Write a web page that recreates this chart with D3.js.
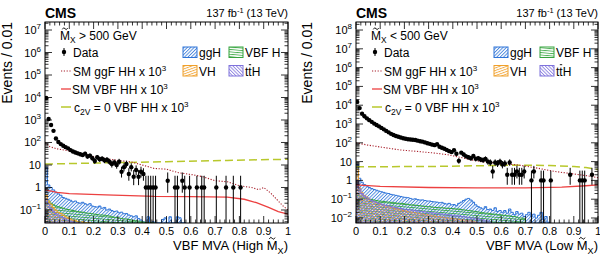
<!DOCTYPE html>
<html>
<head>
<meta charset="utf-8">
<script src="https://cdn.jsdelivr.net/npm/d3@7"></script>
<style>
  body { margin: 0; background: #fff; }
  text { font-family: "Liberation Sans", Arial, Helvetica, sans-serif; fill: #000; }
</style>
</head>
<body>
<svg id="chart" width="600" height="261"></svg>
<script>
// ---- values (bin width 0.01, histograms start at 0) ----

// data: [bin centre, events]
var dataHigh = [[0.005,9500],[0.015,1100],[0.025,600],[0.035,330],[0.045,150],[0.055,105],[0.065,85],[0.075,72],
  [0.085,62],[0.095,55],[0.105,46],[0.115,40],[0.125,36],[0.135,33],[0.145,30],[0.155,28],[0.165,32],[0.175,24],
  [0.185,26],[0.195,20],[0.205,15],[0.215,22],[0.225,18],[0.235,19],[0.245,16],[0.255,17],[0.265,14],[0.275,11],
  [0.285,13],[0.295,10],[0.305,14],[0.315,5],[0.325,8],[0.335,11],[0.345,4],[0.355,8],[0.365,3],[0.375,6],
  [0.385,3],[0.395,5],[0.405,4],[0.415,1],[0.425,1],[0.435,1],[0.445,1],[0.455,1],[0.505,2],[0.535,1],
  [0.545,1],[0.565,2],[0.575,1],[0.595,1],[0.625,1],[0.645,1],[0.655,1],[0.705,1],[0.745,1],[0.775,1],[0.805,1]];

var dataLow = [[0.005,15000],[0.015,7000],[0.025,3500],[0.035,2600],[0.045,2000],[0.055,1600],[0.065,1300],
  [0.075,1050],[0.085,880],[0.095,750],[0.105,620],[0.115,520],[0.125,430],[0.135,360],[0.145,300],[0.155,260],
  [0.165,230],[0.175,210],[0.185,190],[0.195,175],[0.205,165],[0.215,155],[0.225,150],[0.235,145],[0.245,140],
  [0.255,130],[0.265,120],[0.275,115],[0.285,105],[0.295,95],[0.305,88],[0.315,80],[0.325,75],[0.335,85],
  [0.345,62],[0.355,55],[0.365,48],[0.375,42],[0.385,36],[0.395,32],[0.405,40],[0.415,26],[0.425,11],[0.435,30],
  [0.445,24],[0.455,19],[0.465,17],[0.475,15],[0.485,20],[0.495,14],[0.505,15],[0.515,13],[0.525,12],[0.535,14],
  [0.545,10],[0.555,9],[0.565,3],[0.575,9],[0.585,8],[0.595,10],[0.605,7],[0.615,8],[0.625,2],[0.635,9],
  [0.645,2],[0.655,2],[0.665,3],[0.675,2],[0.685,2],[0.695,3],[0.725,1],[0.735,3],[0.765,1],[0.775,1],
  [0.805,1],[0.885,2],[0.925,1],[0.935,1],[0.945,1],[0.975,2]];

// single Higgs backgrounds, per 0.01 bin
var ggHHigh = [8,1.3,1.0,0.78,0.62,0.52,0.45,0.36,0.33,0.3, 0.27,0.23,0.25,0.21,0.2,0.22,0.19,0.17,0.19,0.15,
  0.14,0.135,0.15,0.12,0.13,0.1,0.11,0.095,0.085,0.09, 0.075,0.08,0.068,0.07,0.06,0.055,0.05,0.055,0.042,0.036,
  0.03,0.025,0.05,0.02,0.03,0.018,0.015,0.02,0.038,0.045, 0.02,0.05,0.015,0.025,0.05,0.045,0.02,0.01];
var vbfHHigh = [0.3,0.25,0.2,0.17,0.15,0.14,0.13,0.12,0.11,0.105, 0.1,0.095,0.09,0.085,0.082,0.08,0.075,0.072,0.07,0.068,
  0.065,0.063,0.06,0.06,0.058,0.056,0.054,0.05,0.048,0.046, 0.044,0.042,0.04,0.04,0.038,0.036,0.034,0.033,0.032,0.03,
  0.029,0.027,0.026,0.024,0.02];
var vhHigh = [0.45,0.25,0.18,0.13,0.1,0.08,0.07,0.06,0.05,0.045, 0.04,0.035,0.035,0.03,0.028,0.03,0.025,0.022,0.02];
var tthHigh = [0.3,0.18,0.12,0.09,0.07,0.06,0.05,0.045,0.04,0.035, 0.032,0.03,0.028,0.025,0.02];

var ggHLow = [7,1.3,0.8,0.6,0.5,0.42,0.37,0.33,0.3,0.27, 0.25,0.23,0.21,0.2,0.18,0.17,0.16,0.15,0.14,0.13,
  0.125,0.12,0.11,0.1,0.105,0.095,0.09,0.092,0.085,0.08, 0.08,0.075,0.072,0.07,0.065,0.068,0.06,0.055,0.06,0.05,
  0.052,0.045,0.06,0.07,0.085,0.1,0.11,0.09,0.07,0.05, 0.04,0.035,0.03,0.04,0.028,0.03,0.025,0.035,0.022,0.025,
  0.02,0.025,0.018,0.03,0.02,0.015,0.022,0.016,0.018,0.012, 0.015,0.02,0.012,0.016,0.01,0.014,0.02,0.008,0.012,0.006];
var vbfHLow = [0.2,0.15,0.13,0.12,0.11,0.1,0.095,0.09,0.085,0.08, 0.078,0.075,0.072,0.07,0.068,0.065,0.063,0.06,0.06,0.058,
  0.055,0.053,0.05,0.05,0.048,0.046,0.045,0.043,0.042,0.04, 0.04,0.038,0.037,0.036,0.035,0.035,0.034,0.033,0.033,0.032,
  0.031,0.03,0.03,0.028,0.027,0.026,0.025,0.024,0.023,0.022, 0.021,0.02,0.019,0.018,0.018,0.017,0.016,0.016,0.015,0.015,
  0.014,0.014,0.013,0.013,0.012,0.012,0.011,0.01,0.01,0.009];
var vhLow = [4,0.4,0.22,0.16,0.13,0.1,0.085,0.075,0.065,0.058, 0.052,0.047,0.043,0.04,0.037,0.034,0.031,0.029,0.027,0.025,
  0.024,0.022,0.021,0.02,0.019,0.018,0.017,0.016,0.015,0.015, 0.014,0.013,0.013,0.012,0.012,0.011,0.011,0.01,0.01,0.0095,
  0.009,0.009,0.0085,0.008,0.008,0.0075,0.007,0.007,0.0065,0.006];
var tthLow = [1.0,0.35,0.2,0.15,0.12,0.1,0.085,0.075,0.067,0.06, 0.055,0.05,0.047,0.044,0.041,0.038,0.036,0.034,0.032,0.03,
  0.029,0.028,0.027,0.026,0.025,0.024,0.023,0.022,0.021,0.02, 0.02,0.019,0.018,0.018,0.017,0.016,0.016,0.015,0.015,0.014,
  0.014,0.013,0.013,0.012,0.012,0.011,0.011,0.01,0.01,0.009, 0.009,0.008,0.008,0.007,0.007,0.006];

// HH signals x 10^3: [mva, events]
var ggfHigh = [[0,100],[0.02,65],[0.05,52],[0.1,42],[0.15,32],[0.2,24],[0.25,19],[0.3,16],[0.35,14],[0.4,10],
  [0.45,7],[0.5,6.5],[0.55,4.5],[0.6,3.8],[0.65,3],[0.7,2],[0.75,1.8],[0.8,1.2],[0.85,1.0],[0.88,0.8],[0.9,1.0],
  [0.93,0.55],[0.96,0.25],[0.98,0.15],[1.0,0.1]];
var vbfHigh = [[0,0.78],[0.05,0.6],[0.1,0.53],[0.25,0.47],[0.45,0.4],[0.6,0.39],[0.75,0.37],[0.82,0.3],[0.87,0.21],
  [0.92,0.13],[0.96,0.085],[1,0.065]];
var c2vHigh = [[0,11],[0.25,12.5],[0.5,14],[0.75,16],[1,18]];

var ggfLow = [[0,100],[0.05,75],[0.1,60],[0.18,42],[0.25,35],[0.32,29],[0.38,23],[0.43,17],[0.48,12],[0.53,9.5],
  [0.6,8],[0.67,6.6],[0.75,4.5],[0.82,3],[0.9,2.2],[0.95,1.8],[1.0,1.4]];
var vbfLow = [[0,0.58],[0.1,0.48],[0.3,0.42],[0.5,0.4],[0.7,0.4],[0.85,0.44],[0.95,0.52],[1,0.58]];
var c2vLow = [[0,5.3],[0.3,5.5],[0.5,6],[0.65,6.5],[0.8,6.2],[0.9,5.5],[0.95,4.8],[1,3.8]];

var xTicks = d3.range(0, 1.0001, 0.1);
var xMinorTicks = d3.range(0, 1.0001, 0.02);
var binWidth = 0.01;

// ---- layout ----
var svg = d3.select("#chart");
var defs = svg.append("defs");
var frameTop = 22, frameBottom = 223;

var colors = { ggH: "#2f74d8", vbfH: "#35a43d", vh: "#f0a02a", tth: "#7f72dc",
  ggf: "#a8202c", vbf: "#ec4040", c2v: "#b8c82c" };

function hatch(id, color, angle) {
  var p = defs.append("pattern").attr("id", id)
    .attr("patternUnits", "userSpaceOnUse")
    .attr("width", 2.4).attr("height", 2.4)
    .attr("patternTransform", "rotate(" + angle + ")");
  p.append("line").attr("x1", 0.5).attr("y1", 0).attr("x2", 0.5).attr("y2", 2.4)
    .attr("stroke", color).attr("stroke-width", 0.8);
}
hatch("hGGH", colors.ggH, 45);
hatch("hVBFH", colors.vbfH, 95);
hatch("hVH", colors.vh, 70);
hatch("hTTH", colors.tth, -45);

function tildePath(cx, cy, w) {
  var h = w * 0.25;
  return "M" + (cx - w / 2) + "," + (cy + h * 0.5) +
    " Q" + (cx - w / 4) + "," + (cy - h * 1.6) + " " + cx + "," + cy +
    " Q" + (cx + w / 4) + "," + (cy + h * 1.6) + " " + (cx + w / 2) + "," + (cy - h * 0.5);
}

// text with M~_X in it
function addMx(g, x, y, anchor, prefix, suffix, size) {
  var t = g.append("text").attr("x", x).attr("y", y)
    .attr("text-anchor", anchor).attr("font-size", size);
  t.append("tspan").text(prefix + "M");
  t.append("tspan").attr("font-size", size * 0.7).attr("dy", size * 0.28).text("X");
  t.append("tspan").attr("dy", -size * 0.28).text(suffix);
  var ext = t.node().getExtentOfChar(prefix.length);
  g.append("path")
    .attr("d", tildePath(ext.x + ext.width / 2, y - size * 0.9, size * 0.45))
    .attr("fill", "none").attr("stroke", "#000").attr("stroke-width", 0.9);
}

function powLabel(t, n) {
  if (n === 0) { t.text("1"); return; }
  if (n === 1) { t.text("10"); return; }
  t.append("tspan").text("10");
  t.append("tspan").attr("font-size", 8).attr("dy", -5).text(String(n).replace("-", "\u2212"));
}

function drawPanel(cfg) {
  var g = svg.append("g");
  var x = d3.scaleLinear().domain([0, 1]).range([cfg.x0, cfg.x1]);
  var y = d3.scaleLog().domain(cfg.yDomain).range([frameBottom, frameTop]);
  var ymin = cfg.yDomain[0];

  var clipId = "clip" + cfg.id;
  defs.append("clipPath").attr("id", clipId).append("rect")
    .attr("x", cfg.x0).attr("y", frameTop).attr("width", cfg.x1 - cfg.x0).attr("height", frameBottom - frameTop);
  var plot = g.append("g").attr("clip-path", "url(#" + clipId + ")");

  // background histograms, overlaid
  function histPath(vals) {
    var d = "M" + x(0) + "," + y(ymin);
    vals.forEach(function (v, i) {
      var yy = y(Math.max(v, ymin));
      d += "L" + x(i * binWidth) + "," + yy + "L" + x((i + 1) * binWidth) + "," + yy;
    });
    return d + "L" + x(vals.length * binWidth) + "," + y(ymin) + "Z";
  }
  [[cfg.ggH, "hGGH", colors.ggH], [cfg.vbfH, "hVBFH", colors.vbfH],
   [cfg.vh, "hVH", colors.vh], [cfg.tth, "hTTH", colors.tth]].forEach(function (h) {
    plot.append("path").attr("d", histPath(h[0]))
      .attr("fill", "url(#" + h[1] + ")").attr("stroke", h[2]).attr("stroke-width", 1);
  });

  // signal curves
  var line = d3.line().x(function (d) { return x(d[0]); }).y(function (d) { return y(d[1]); });
  plot.append("path").datum(cfg.c2v).attr("d", line).attr("fill", "none")
    .attr("stroke", colors.c2v).attr("stroke-width", 1.5).attr("stroke-dasharray", "8,4");
  plot.append("path").datum(cfg.vbf).attr("d", line).attr("fill", "none")
    .attr("stroke", colors.vbf).attr("stroke-width", 1.3);
  plot.append("path").datum(cfg.ggf).attr("d", line).attr("fill", "none")
    .attr("stroke", colors.ggf).attr("stroke-width", 1.1).attr("stroke-dasharray", "1.2,1.6");

  // data with poisson-ish error bars
  var pts = plot.selectAll(".pt").data(cfg.data).enter().append("g");
  pts.append("line")
    .attr("x1", function (d) { return x(d[0]); }).attr("x2", function (d) { return x(d[0]); })
    .attr("y1", function (d) { var lo = d[1] - Math.sqrt(d[1]); return y(Math.max(lo, ymin)); })
    .attr("y2", function (d) { return y(d[1] + 1 + Math.sqrt(d[1] + 0.75)); })
    .attr("stroke", "#000").attr("stroke-width", 1);
  pts.append("circle").attr("cx", function (d) { return x(d[0]); }).attr("cy", function (d) { return y(d[1]); })
    .attr("r", 2.2).attr("fill", "#000");

  // frame
  g.append("rect").attr("x", cfg.x0).attr("y", frameTop).attr("width", cfg.x1 - cfg.x0).attr("height", frameBottom - frameTop)
    .attr("fill", "none").attr("stroke", "#000").attr("stroke-width", 1);

  // x ticks (inward, top and bottom)
  var tk = g.append("g").attr("stroke", "#000").attr("stroke-width", 0.8);
  xMinorTicks.forEach(function (v) {
    var major = xTicks.some(function (m) { return Math.abs(m - v) < 1e-6; });
    var L = major ? 7 : 3.5;
    tk.append("line").attr("x1", x(v)).attr("x2", x(v)).attr("y1", frameBottom).attr("y2", frameBottom - L);
    tk.append("line").attr("x1", x(v)).attr("x2", x(v)).attr("y1", frameTop).attr("y2", frameTop + L);
  });
  xTicks.forEach(function (v) {
    g.append("text").attr("x", x(v)).attr("y", 235).attr("text-anchor", "middle")
      .attr("font-size", 11).text(d3.format("~g")(+v.toFixed(1)));
  });

  // y ticks (log)
  var e0 = Math.ceil(Math.log10(cfg.yDomain[0])), e1 = Math.floor(Math.log10(cfg.yDomain[1]));
  for (var e = e0 - 1; e <= e1; e++) {
    for (var k = 1; k <= 9; k++) {
      var v = k * Math.pow(10, e);
      if (v < cfg.yDomain[0] || v > cfg.yDomain[1]) continue;
      var L = k === 1 ? 7 : 3.5;
      tk.append("line").attr("x1", cfg.x0).attr("x2", cfg.x0 + L).attr("y1", y(v)).attr("y2", y(v));
      tk.append("line").attr("x1", cfg.x1).attr("x2", cfg.x1 - L).attr("y1", y(v)).attr("y2", y(v));
    }
  }
  for (var n = e0; n <= e1; n++) {
    var t = g.append("text").attr("x", cfg.x0 - 4).attr("y", y(Math.pow(10, n)) + 4)
      .attr("text-anchor", "end").attr("font-size", 11);
    powLabel(t, n);
  }

  // titles
  g.append("text").attr("transform", "translate(" + cfg.yTitleX + "," + frameTop + ") rotate(-90)")
    .attr("text-anchor", "end").attr("font-size", 14).text("Events / 0.01");
  addMx(g, cfg.x1, 250, "end", "VBF MVA (" + cfg.region + " ", ")", 13);
  g.append("text").attr("x", cfg.x0).attr("y", 17.5).attr("font-size", 14)
    .attr("font-weight", "bold").text("CMS");
  var lumi = g.append("text").attr("x", cfg.x1).attr("y", 17).attr("text-anchor", "end").attr("font-size", 11);
  lumi.append("tspan").text("137 fb");
  lumi.append("tspan").attr("font-size", 7.5).attr("dy", -4).text("-1");
  lumi.append("tspan").attr("dy", 4).text(" (13 TeV)");

  // legend
  var lx = cfg.x0;
  addMx(g, lx + 15, 39.5, "start", "", cfg.cut, 12);
  g.append("line").attr("x1", lx + 19).attr("x2", lx + 19).attr("y1", 48).attr("y2", 56)
    .attr("stroke", "#000").attr("stroke-width", 1);
  g.append("circle").attr("cx", lx + 19).attr("cy", 52).attr("r", 2.2).attr("fill", "#000");
  g.append("text").attr("x", lx + 28).attr("y", 56.5).attr("font-size", 12).text("Data");

  g.append("line").attr("x1", lx + 16).attr("x2", lx + 26).attr("y1", 71).attr("y2", 71)
    .attr("stroke", colors.ggf).attr("stroke-width", 1.1).attr("stroke-dasharray", "1.2,1.6");
  var t1 = g.append("text").attr("x", lx + 28).attr("y", 75.5).attr("font-size", 12);
  t1.append("tspan").text("SM ggF HH x 10");
  t1.append("tspan").attr("font-size", 8).attr("dy", -5).text("3");

  g.append("line").attr("x1", lx + 16).attr("x2", lx + 26).attr("y1", 89).attr("y2", 89)
    .attr("stroke", colors.vbf).attr("stroke-width", 1.3);
  var t2 = g.append("text").attr("x", lx + 27).attr("y", 93.5).attr("font-size", 12);
  t2.append("tspan").text("SM VBF HH x 10");
  t2.append("tspan").attr("font-size", 8).attr("dy", -5).text("3");

  g.append("line").attr("x1", lx + 16).attr("x2", lx + 26).attr("y1", 107).attr("y2", 107)
    .attr("stroke", colors.c2v).attr("stroke-width", 1.5);
  var t3 = g.append("text").attr("x", lx + 29).attr("y", 112).attr("font-size", 12);
  t3.append("tspan").text("c");
  t3.append("tspan").attr("font-size", 8.5).attr("dy", 3).text("2V");
  t3.append("tspan").attr("dy", -3).text(" = 0 VBF HH x 10");
  t3.append("tspan").attr("font-size", 8).attr("dy", -5).text("3");

  var boxes = [["hGGH", colors.ggH, "ggH", 138, 47], ["hVBFH", colors.vbfH, "VBF H", 184, 47],
               ["hVH", colors.vh, "VH", 138, 65.5], ["hTTH", colors.tth, "ttH", 184, 65.5]];
  boxes.forEach(function (b) {
    g.append("rect").attr("x", lx + b[3]).attr("y", b[4]).attr("width", 14).attr("height", 10.5)
      .attr("fill", "url(#" + b[0] + ")").attr("stroke", b[1]).attr("stroke-width", 1);
    var tt = g.append("text").attr("x", lx + b[3] + 16).attr("y", b[4] + 10).attr("font-size", 12).text(b[2]);
    if (b[2] === "ttH") {
      var ex = tt.node().getExtentOfChar(1);
      g.append("line").attr("x1", ex.x + 0.5).attr("x2", ex.x + ex.width - 0.5)
        .attr("y1", b[4] - 0.8).attr("y2", b[4] - 0.8).attr("stroke", "#000").attr("stroke-width", 0.9);
    }
  });
}

drawPanel({ id: "High", x0: 45, x1: 288, yDomain: [0.0264, 2.27e7], yTitleX: 11.5,
  region: "High", cut: " > 500 GeV", data: dataHigh,
  ggH: ggHHigh, vbfH: vbfHHigh, vh: vhHigh, tth: tthHigh, ggf: ggfHigh, vbf: vbfHigh, c2v: c2vHigh });

drawPanel({ id: "Low", x0: 356, x1: 598, yDomain: [0.00542, 2.67e8], yTitleX: 312,
  region: "Low", cut: " < 500 GeV", data: dataLow,
  ggH: ggHLow, vbfH: vbfHLow, vh: vhLow, tth: tthLow, ggf: ggfLow, vbf: vbfLow, c2v: c2vLow });
</script>
</body>
</html>
